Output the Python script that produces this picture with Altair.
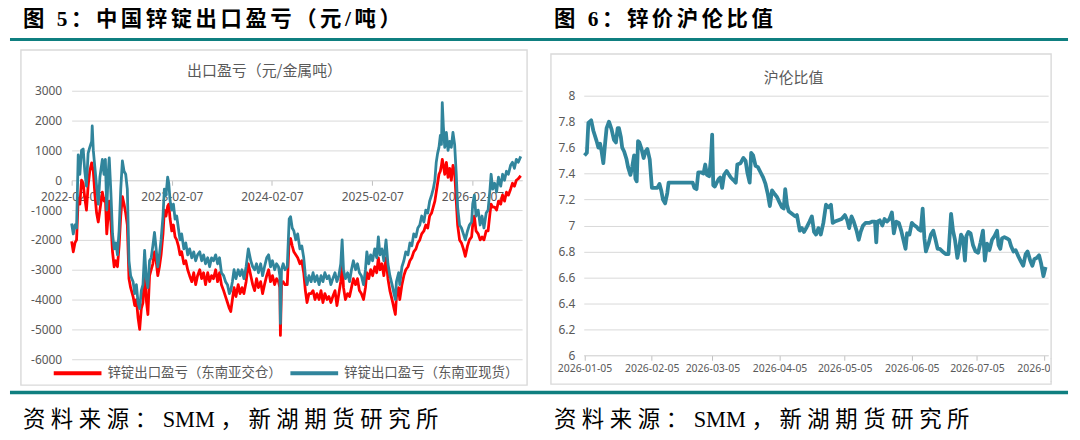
import re
import altair as alt
import pandas as pd

# ---------------- 图5：中国锌锭出口盈亏（元/吨） ----------------
EXPORT_START = "2022-02-07"
EXPORT_END = "2026-08-07"
EXPORT_DAY = [
    0, 6, 12, 18, 24, 30, 36, 42, 48, 54,
    60, 66, 73, 75, 79, 85, 91, 97, 103, 109,
    112, 118, 123, 128, 133, 137, 143, 149, 155, 161,
    167, 173, 179, 185, 191, 197, 203, 209, 215, 224,
    230, 236, 242, 248, 254, 260, 266, 272, 278, 284,
    290, 296, 302, 308, 314, 320, 326, 333, 338, 344,
    350, 354, 359, 365, 371, 377, 383, 389, 395, 401,
    409, 416, 423, 430, 438, 445, 452, 459, 467, 474,
    481, 488, 496, 503, 510, 517, 525, 532, 539, 546,
    554, 561, 568, 575, 580, 586, 592, 599, 607, 614,
    621, 628, 636, 644, 653, 660, 667, 674, 681, 689,
    696, 703, 711, 718, 725, 732, 740, 747, 754, 759,
    761, 765, 771, 778, 786, 793, 798, 804, 810, 817,
    824, 832, 839, 846, 852, 858, 865, 873, 880, 887,
    894, 902, 909, 916, 923, 931, 938, 945, 952, 960,
    967, 974, 981, 986, 991, 998, 1006, 1013, 1020, 1027,
    1035, 1042, 1049, 1056, 1064, 1071, 1076, 1083, 1090, 1097,
    1105, 1112, 1118, 1124, 1131, 1138, 1146, 1153, 1160, 1168,
    1175, 1180, 1184, 1192, 1196, 1204, 1211, 1218, 1226, 1233,
    1240, 1247, 1255, 1262, 1269, 1276, 1284, 1291, 1298, 1305,
    1312, 1318, 1324, 1329, 1334, 1339, 1344, 1348, 1351, 1355,
    1360, 1366, 1372, 1378, 1384, 1390, 1396, 1402, 1407, 1414,
    1421, 1428, 1435, 1443, 1450, 1458, 1462, 1468, 1474, 1482,
    1489, 1496, 1503, 1511, 1518, 1525, 1529, 1535, 1542, 1549,
    1556, 1564, 1571, 1578, 1585, 1592, 1600, 1607, 1614, 1621,
    1628, 1637,
]
# 锌锭出口盈亏（东南亚现货）
EXPORT_SPOT = [
    -1450, -1800, -1500, -1600, 850, 200, 1000, 1050, 300, -200,
    900, 1100, 1300, 1820, 1000, 400, -200, -800, 100, 500,
    700, 200, 700, -1000, 200, 750, -400, -1800, -2300, -2100,
    -2500, -1700, -300, 650, 300, 200, -300, -2700, -3200, -3400,
    -3800, -3500, -4100, -4300, -3700, -3500, -2350, -3300, -3600, -2700,
    -2600, -2200, -1750, -2300, -2900, -2500, -2000, -1200, -300, -500,
    100, -100, -700, -1000, -800, -1300, -1200, -1600, -2000, -1800,
    -2300, -2100, -2500, -2300, -2600, -2400, -2700, -2500, -2400, -2700,
    -2500, -2800, -2600, -2900, -2600, -2700, -2500, -2800, -2600, -3100,
    -3200, -3400, -3500, -3800, -3700, -3400, -3000, -3300, -3000, -3200,
    -3000, -3300, -2900, -2300, -2700, -2900, -3000, -2800, -3100, -2800,
    -3200, -2900, -2600, -2500, -2900, -2700, -3000, -2800, -2900, -3200,
    -4800, -3000, -2800, -3000, -2900, -1300, -1220, -1600, -1700, -2000,
    -1800, -2300, -2200, -2600, -3200, -3500, -3200, -3400, -3100, -3400,
    -3200, -3500, -3200, -3400, -3100, -3300, -3200, -3500, -3300, -3100,
    -3400, -3200, -2800, -2000, -3000, -3300, -3100, -3400, -3000, -2700,
    -3000, -2800, -3100, -3200, -3500, -3000, -2400, -2800, -2500, -2700,
    -2300, -2600, -1900, -2500, -2300, -2700, -2000, -2800, -3200, -3500,
    -3800, -4000, -3400, -3100, -3500, -2900, -2700, -2400, -2500, -2100,
    -2200, -1800, -1900, -1600, -1500, -1200, -1400, -1000, -1100, -700,
    -500, -300, 0, 600, 900, 1100, 1500, 1200, 2600, 1800,
    1100, 1600, 1000, 1300, 1100, 1600, 1200, 200, -900, -1500,
    -1600, -1800, -2000, -1700, -1500, -1400, -800, -500, -1200, -1000,
    -1500, -1200, -1600, -1100, -1000, -300, 200, -300, -100, -400,
    100, -200, 200, 0, 300, 200, 500, 600, 400, 700,
    600, 800,
]
# 锌锭出口盈亏（东南亚交仓）
EXPORT_WAREHOUSE = [
    -2050, -2400, -2100, -2000, -600, -800, 0, -100, -600, -1000,
    -200, 300, 580, 500, 300, -500, -1100, -1400, -1000, -600,
    -400, -700, -600, -1800, -1200, -700, -1400, -2400, -2900, -2700,
    -2900, -2200, -1200, -550, -800, -1100, -1500, -3300, -3600, -3900,
    -4200, -4000, -4600, -5000, -4300, -4100, -3000, -4000, -4500, -3200,
    -3000, -2800, -2400, -2700, -3200, -2900, -2500, -1800, -1000, -1200,
    -870, -800, -1300, -1700, -1500, -1900, -2000, -2200, -2500, -2400,
    -2800, -2700, -3000, -3200, -3400, -3100, -3500, -3200, -3000, -3300,
    -3100, -3500, -3100, -3400, -3200, -3300, -3000, -3400, -3100, -3500,
    -3700, -3900, -4100, -4300, -4400, -4000, -3600, -3900, -3500, -3800,
    -3600, -3800, -3400, -2800, -3200, -3500, -3700, -3300, -3600, -3400,
    -3800, -3500, -3200, -3000, -3400, -3200, -3500, -3300, -3400, -3600,
    -5200, -3500, -3400, -3500, -3500, -2000, -1950, -2200, -2400, -2500,
    -2600, -2800, -2700, -3100, -3700, -4100, -3800, -3800, -3700, -4000,
    -3800, -4000, -3700, -4100, -3800, -4000, -3900, -4100, -3900, -3700,
    -4200, -3800, -3400, -2700, -3600, -4000, -3800, -3900, -3600, -3300,
    -3500, -3300, -3700, -3800, -4000, -3600, -3100, -3300, -3000, -3200,
    -2900, -3100, -2600, -3000, -2800, -3200, -2600, -3300, -3700, -4000,
    -4300, -4500, -3900, -3600, -4000, -3500, -3200, -3000, -2900, -2700,
    -2600, -2400, -2300, -2100, -2000, -1800, -1700, -1500, -1600, -1200,
    -1100, -900, -700, -400, -100, 200, 300, 500, 700, 500,
    200, 600, 100, 400, 0, 500, 300, -700, -1500, -2000,
    -2100, -2300, -2550, -2200, -2000, -1900, -1500, -1200, -1700, -1800,
    -2000, -1900, -2000, -1700, -1700, -1100, -800, -900, -900, -1000,
    -700, -800, -500, -700, -400, -500, -300, -100, -200, 0,
    50, 150,
]
EXPORT_SERIES = ["锌锭出口盈亏（东南亚交仓）", "锌锭出口盈亏（东南亚现货）"]
EXPORT_COLORS = ["#ff0000", "#31859c"]
EXPORT_Y_TICKS = [3000, 2000, 1000, 0, -1000, -2000, -3000, -4000, -5000, -6000]
EXPORT_X_TICKS = ["2022-02-07", "2023-02-07", "2024-02-07", "2025-02-07", "2026-02-07"]

# ---------------- 图6：锌价沪伦比值 ----------------
RATIO_START = "2026-01-05"
RATIO_DAY = [
    0, 1.1, 1.8, 3.1, 4.1, 5.6, 6.4, 7.2, 7.9, 8.7,
    9.5, 10.2, 11.3, 12.5, 13.6, 14.5, 15.3, 15.9, 16.8, 17.4,
    18.3, 19.4, 20.1, 21.2, 22.0, 22.9, 23.5, 24.1, 24.7, 25.3,
    26.3, 27.3, 28.1, 29.0, 30.1, 31.1, 32.4, 33.6, 34.6, 35.4,
    36.2, 37.2, 38.2, 38.8, 49.9, 50.7, 51.7, 52.5, 53.7, 54.9,
    55.7, 56.5, 57.5, 58.3, 58.9, 59.4, 60.1, 61.0, 62.0, 62.6,
    63.5, 64.4, 65.6, 66.7, 67.5, 68.7, 69.8, 70.5, 72.0, 73.3,
    74.3, 75.1, 76.2, 76.9, 77.8, 78.9, 80.0, 81.2, 82.4, 83.5,
    84.6, 85.5, 86.5, 87.8, 88.8, 89.9, 91.1, 91.9, 92.6, 93.4,
    94.2, 95.7, 97.2, 98.0,
    99.3, 100.3, 101.3, 102.6, 103.8, 104.9, 105.9, 106.8, 107.9, 109.0,
    110.2, 111.4, 112.5, 113.7, 114.5, 115.5, 117.1, 118.6, 120.1, 121.2,
    122.1, 123.2, 124.2, 125.5, 126.5, 127.4, 128.5, 129.7, 131.3, 132.8,
    134.0, 134.6, 135.1, 136.2, 137.4, 138.4, 139.5, 140.7, 141.8, 142.7,
    143.8, 145.0, 146.1, 146.8, 148.1, 148.8, 149.9, 151.0, 152.2, 153.2,
    154.1, 155.1, 156.0, 156.8, 157.5, 158.7, 159.8, 160.9, 161.8, 162.9,
    163.9, 165.1, 166.6, 167.9, 169.1, 170.0, 170.9, 172.0, 172.8, 173.7,
    174.6, 175.5, 176.2, 177.1, 178.1, 179.2, 180.4, 181.6, 182.7, 183.8,
    184.7, 185.7, 186.8, 188.0, 189.2, 190.3, 191.0, 191.8, 192.6, 193.7,
    194.9, 195.9, 196.8, 197.9, 198.9, 200.2, 201.4, 202.4, 203.5, 204.4,
    205.6, 206.6, 207.5, 208.6, 209.7, 210.6, 211.7, 212.7,
]
RATIO = [
    7.54, 7.56, 7.79, 7.81, 7.73, 7.65, 7.60, 7.63, 7.57, 7.48,
    7.63, 7.75, 7.80, 7.74, 7.66, 7.64, 7.75, 7.75, 7.68, 7.60,
    7.57, 7.51, 7.45, 7.39, 7.45, 7.54, 7.36, 7.34, 7.65, 7.64,
    7.59, 7.52, 7.57, 7.59, 7.51, 7.29, 7.29, 7.29, 7.32, 7.27,
    7.20, 7.17, 7.25, 7.33, 7.33, 7.29, 7.28, 7.41, 7.41, 7.40,
    7.47, 7.39, 7.38, 7.51, 7.70, 7.31, 7.30, 7.33, 7.36, 7.37,
    7.29, 7.39, 7.42, 7.39, 7.37, 7.35, 7.33, 7.47, 7.48, 7.52,
    7.50, 7.41, 7.33, 7.56, 7.54, 7.46, 7.45, 7.41, 7.37, 7.32,
    7.24, 7.15, 7.27, 7.24, 7.22, 7.18, 7.14, 7.13, 7.28, 7.16,
    7.11, 7.09, 7.07, 7.08,
    6.96, 6.98, 6.95, 6.99, 7.03, 7.07, 6.95, 6.93, 6.98, 6.93,
    7.02, 7.16, 7.14, 7.16, 7.02, 7.03, 7.04, 7.05, 7.08, 7.04,
    6.98, 7.07, 7.03, 6.96, 6.89, 6.95, 7.00, 7.02, 7.02, 7.03,
    7.03, 6.87, 7.03, 7.04, 7.00, 7.05, 7.03, 7.05, 7.10, 6.94,
    7.03, 7.02, 6.96, 6.91, 6.82, 6.94, 6.93, 7.02, 7.00, 6.99,
    6.97, 6.96, 7.13, 6.90, 6.80, 6.86, 6.93, 6.96, 6.90, 6.82,
    6.82, 6.80, 6.78, 6.78, 7.09, 6.96, 6.89, 6.75, 6.82, 6.93,
    6.90, 6.73, 6.92, 6.95, 6.94, 6.85, 6.80, 6.79, 6.87, 6.96,
    6.73, 6.86, 6.81, 6.89, 6.92, 6.96, 6.85, 6.82, 6.90, 6.91,
    6.90, 6.89, 6.84, 6.80, 6.81, 6.76, 6.72, 6.69, 6.78, 6.80,
    6.73, 6.69, 6.74, 6.75, 6.77, 6.71, 6.61, 6.68,
]
RATIO_Y_TICKS = [6, 6.2, 6.4, 6.6, 6.8, 7, 7.2, 7.4, 7.6, 7.8, 8]
RATIO_X_TICKS = ["2026-01-05", "2026-02-05", "2026-03-05", "2026-04-05",
                 "2026-05-05", "2026-06-05", "2026-07-05", "2026-08-05"]

# ---------------- texts ----------------
HEAD_5 = "图 5：中国锌锭出口盈亏（元/吨）"
HEAD_6 = "图 6：锌价沪伦比值"
TITLE_5 = "出口盈亏（元/金属吨）"
TITLE_6 = "沪伦比值"
SOURCE = "资料来源：SMM，新湖期货研究所"

assert len(EXPORT_DAY) == len(EXPORT_SPOT) == len(EXPORT_WAREHOUSE)
assert len(RATIO_DAY) == len(RATIO)

# ---------------- styles ----------------
CJK = "Noto Sans CJK SC"
SERIF_CJK = "Liberation Serif, Noto Sans CJK SC"
NUM = "Noto Sans"
GRAY = "#595959"
GRID = "#d9d9d9"
RULE = "#0f7f80"
LINE_TEAL = "#31859c"


def spaced(s, gap="\u2006"):
    # letter-spaced look of the document headings; latin runs stay together
    return gap.join(re.findall(r"[A-Za-z0-9]+|.", s))


def dt(s, hours=0):
    y, m, d = (int(p) for p in s.split("-"))
    return alt.DateTime(year=y, month=m, date=d, hours=hours)


ONE = alt.Data(values=[{}])


def text(t, x, y, size, font=CJK, color="#000000", weight="normal", align="left"):
    return alt.Chart(ONE).mark_text(
        text=t, align=align, baseline="middle", font=font, fontSize=size,
        fontWeight=weight, color=color,
    ).encode(x=alt.value(x), y=alt.value(y))


def hrule(x1, x2, y, width):
    return alt.Chart(ONE).mark_rule(color=RULE, strokeWidth=width).encode(
        x=alt.value(x1), x2=alt.value(x2), y=alt.value(y))


def box(x1, x2, y1, y2):
    return alt.Chart(ONE).mark_rect(fillOpacity=0, stroke=GRID, strokeWidth=1.4).encode(
        x=alt.value(x1), x2=alt.value(x2), y=alt.value(y1), y2=alt.value(y2))


# ---------------- frames ----------------
canvas = alt.Chart(ONE).mark_rect(opacity=0).encode(
    x=alt.value(-62), x2=alt.value(1002), y=alt.value(-82), y2=alt.value(346))

decor = [
    canvas,
    hrule(-62, 1002, -51.5, 3),
    hrule(-62, 1002, 303.5, 3.5),
    box(-51, 458, -41, 296),
    box(482, 985, -37, 295),
    text(spaced(HEAD_5), -49, -71, 21.5, font=SERIF_CJK, weight="bold"),
    text(spaced(HEAD_6), 485, -71, 21.5, font=SERIF_CJK, weight="bold"),
    text(TITLE_5, 194, -20, 15, color=GRAY, align="center"),
    text(TITLE_6, 726, -13, 15, color=GRAY, align="center"),
    text(spaced(SOURCE, "\u2005"), -49, 331, 22.5, font=SERIF_CJK),
    text(spaced(SOURCE, "\u2005"), 485, 331, 22.5, font=SERIF_CJK),
]

# ---------------- figure 5 ----------------
exp_dates = pd.Timestamp(EXPORT_START) + pd.to_timedelta(EXPORT_DAY, unit="D")
export_df = pd.concat([
    pd.DataFrame({"date": exp_dates, "value": EXPORT_WAREHOUSE, "series": EXPORT_SERIES[0]}),
    pd.DataFrame({"date": exp_dates, "value": EXPORT_SPOT, "series": EXPORT_SERIES[1]}),
], ignore_index=True)

export_line = alt.Chart(export_df).mark_line(strokeWidth=2.8, strokeJoin="round").encode(
    x=alt.X("date:T", title=None,
            scale=alt.Scale(domain=[dt(EXPORT_START), dt(EXPORT_END)]),
            axis=alt.Axis(values=[dt(s) for s in EXPORT_X_TICKS], format="%Y-%m-%d",
                          offset=-180, grid=False, domainColor=GRID, tickColor="#bfbfbf",
                          tickSize=5, labelFont=NUM, labelFontSize=12, labelColor=GRAY,
                          labelPadding=6, labelFlush=False, labelOverlap=False,
                          labelAngle=0, zindex=0)),
    y=alt.Y("value:Q", title=None,
            scale=alt.Scale(domain=[-6000, 3000], nice=False, zero=False),
            axis=alt.Axis(values=EXPORT_Y_TICKS, grid=True, gridColor=GRID, domain=False,
                          ticks=False, tickSize=0, labelFont=NUM, labelFontSize=12,
                          labelColor=GRAY, labelPadding=10, labelExpr="datum.value + ''",
                          zindex=0)),
    color=alt.Color("series:N",
                    scale=alt.Scale(domain=EXPORT_SERIES, range=EXPORT_COLORS),
                    legend=alt.Legend(title=None, orient="none", legendX=-20, legendY=258,
                                      direction="horizontal", symbolType="stroke",
                                      symbolSize=2304, symbolStrokeWidth=4,
                                      labelFont=CJK, labelFontSize=13.5, labelColor=GRAY,
                                      labelOffset=4, columnPadding=0, padding=0,
                                      labelLimit=400)),
)

left = alt.layer(*decor, export_line).properties(width=453, height=270)

# ---------------- figure 6 ----------------
ratio_df = pd.DataFrame({
    "date": pd.Timestamp(RATIO_START) + pd.to_timedelta(RATIO_DAY, unit="D"),
    "ratio": RATIO,
})

ratio_line = alt.Chart(ratio_df).mark_line(color=LINE_TEAL, strokeWidth=3.8, strokeJoin="round").encode(
    x=alt.X("date:T", title=None,
            scale=alt.Scale(domain=[dt("2026-01-04", 16), dt("2026-08-06", 21)]),
            axis=alt.Axis(values=[dt(s) for s in RATIO_X_TICKS], format="%Y-%m-%d",
                          grid=False, domainColor=GRID, tickColor="#bfbfbf", tickSize=5,
                          labelFont=NUM, labelFontSize=10.5, labelColor=GRAY, labelPadding=3,
                          labelFlush=False, labelOverlap=False, labelAngle=0, zindex=0)),
    y=alt.Y("ratio:Q", title=None,
            scale=alt.Scale(domain=[6, 8], range=[266, 5], nice=False, zero=False),
            axis=alt.Axis(values=RATIO_Y_TICKS, grid=True, gridColor=GRID, domain=False,
                          ticks=False, tickSize=0, labelFont=NUM, labelFontSize=12,
                          labelColor=GRAY, labelPadding=9, labelExpr="datum.value + ''",
                          zindex=0)),
)

# the panel frame cuts off the last date label, as in the source document
clip = alt.Chart(ONE).mark_rect(color="white").encode(
    x=alt.value(469), x2=alt.value(491), y=alt.value(270), y2=alt.value(292))
clip_edge = alt.Chart(ONE).mark_rule(color=GRID, strokeWidth=1.4).encode(
    x=alt.value(470), y=alt.value(269), y2=alt.value(293))

right = alt.layer(ratio_line, clip, clip_edge).properties(width=467, height=266)

chart = alt.hconcat(left, right, spacing=62, bounds="flush", padding=0).resolve_scale(
    color="independent").configure_view(strokeWidth=0)

chart.save("out.html", embed_options={"renderer": "svg", "actions": False})
